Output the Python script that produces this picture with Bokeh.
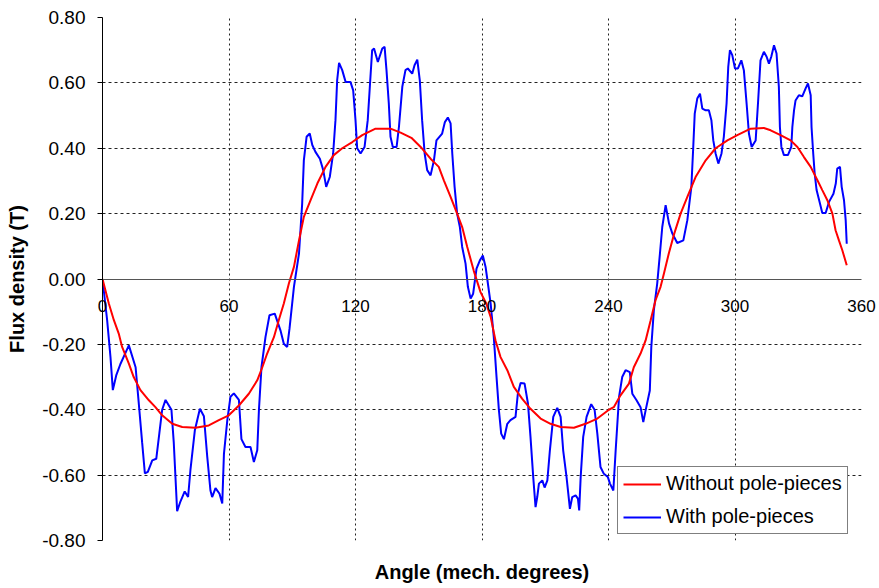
from bokeh.plotting import figure
from bokeh.models import (Range1d, FixedTicker, NumeralTickFormatter, Legend, LegendItem,
                          LinearAxis)
from bokeh.embed import file_html
from bokeh.resources import INLINE

# ---- data ----
angle_without = [0, 3, 5.4, 7.7, 9.3, 12.5, 14.8, 18, 22, 25.1, 28.3, 33.1, 37.8, 44.1, 50.4, 55.2,
                 59.9, 64.7, 69.4, 73.4, 75.8, 78.1, 81.3, 83.6, 86, 88.4, 90.8, 93.2, 95.5, 98.7,
                 101.9, 105.8, 109.7, 113.7, 118.5, 123.2, 129.5, 136.6, 141.4, 146.5, 150.9, 155.6,
                 159.5, 161.9, 165.1, 168.2, 170.6, 173, 176.1, 179.3, 182, 184.1, 186.4, 188.8, 192,
                 195.1, 199, 203, 207.8, 212.5, 217.3, 223.6, 229.1, 234.7, 240.2, 242.5, 245.7,
                 249.7, 252, 255.2, 257.6, 260, 262.3, 264.7, 266.3, 268.6, 271, 274.2, 277.4, 281.3,
                 286.1, 290.8, 296.4, 301.1, 307.4, 313.7, 316.9, 321.6, 326.4, 329.6, 332.7, 335.9,
                 339.1, 341.4, 343.8, 346.2, 347.7, 349.3, 350.9, 353]
flux_without = [0, -0.075, -0.126, -0.167, -0.208, -0.259, -0.30, -0.34, -0.371, -0.392, -0.417,
                -0.443, -0.453, -0.455, -0.448, -0.432, -0.417, -0.387, -0.351, -0.31, -0.27,
                -0.228, -0.178, -0.126, -0.075, -0.014, 0.037, 0.118, 0.19, 0.241, 0.292, 0.343,
                0.379, 0.40, 0.419, 0.44, 0.46, 0.46, 0.448, 0.432, 0.404, 0.368, 0.343, 0.302,
                0.251, 0.20, 0.159, 0.098, 0.025, -0.04, -0.075, -0.116, -0.188, -0.239, -0.279,
                -0.33, -0.366, -0.397, -0.427, -0.443, -0.453, -0.455, -0.443, -0.427, -0.40,
                -0.392, -0.356, -0.32, -0.27, -0.228, -0.188, -0.126, -0.065, -0.024, 0.017, 0.078,
                0.135, 0.20, 0.251, 0.312, 0.363, 0.40, 0.424, 0.44, 0.46, 0.462, 0.455, 0.44,
                0.424, 0.404, 0.373, 0.343, 0.302, 0.272, 0.241, 0.20, 0.149, 0.118, 0.088, 0.042]

angle_with = [0, 2.2, 3.8, 4.9, 6.5, 8.5, 12.5, 15.7, 17.2, 18.8, 20.1, 21.5, 23.6, 25.5, 27, 28.3,
              29.9, 32.7, 33.8, 35.4, 37, 39, 40.6, 41.7, 43.8, 46.2, 48.1, 49.7, 51.2, 52, 53.6,
              55.5, 56.8, 57.6, 59.2, 60.7, 62.3, 64.7, 65.9, 67.8, 70.2, 71.8, 73.4, 74.2, 75.4,
              77.3, 79.2, 81.7, 84.4, 86, 87.6, 88.7, 90.8, 93.2, 94.7, 95.5, 96.8, 98.3, 99.5,
              101, 103.1, 104.7, 106.1, 107.8, 109.4, 110.5, 111.3, 112.2, 113.7, 115.3, 117.6,
              118.9, 120, 120.8, 122.4, 124.3, 125.8, 126.8, 127.9, 128.8, 130.6, 132.7, 133.8,
              134.7, 135.8, 136.6, 137.7, 139.5, 140.6, 142.2, 143.7, 144.8, 146.9, 148, 149.3,
              150.5, 151.6, 152.8, 154, 155.6, 157.2, 158.4, 161.1, 162.4, 163.8, 165.1, 165.9,
              167, 168.2, 169.5, 170.6, 172.2, 173.3, 174.6, 175.8, 177.4, 179, 180.4, 181.7,
              182.5, 184.1, 185.6, 186.9, 188, 189.1, 190.4, 192, 193.5, 195.9, 197, 198.3, 200.2,
              201.8, 203, 204.3, 205.4, 206.2, 207, 208.6, 209.7, 211, 212.2, 213.8, 215.7, 217.3,
              218.5, 220.1, 221.7, 222.8, 224.4, 225.5, 226.1, 226.8, 228, 229.6, 231.8, 233.4,
              234.7, 236.2, 237.8, 239.7, 240.7, 242.3, 243.4, 245, 246.5, 248.1, 250.1, 251.3,
              253.3, 255.2, 256.5, 257.6, 259.6, 260.3, 261.5, 263.1, 264.4, 265.5, 267.1, 268.7,
              270.3, 272.6, 275.5, 277.4, 279.3, 280.2, 280.9, 282.1, 283.4, 284.5, 286.1, 287.6,
              288.8, 289.7, 290.8, 292.1, 293.6, 294.7, 296, 296.8, 297.6, 298.7, 300, 301.4, 303,
              304.2, 305.5, 306.6, 307.9, 309.8, 310.9, 312.1, 313.7, 315, 316.1, 317.2, 318.5,
              319.7, 320.8, 321.3, 322, 323.2, 325.1, 326.7, 327.2, 328, 328.7, 330.3, 331.9,
              333.5, 334.6, 335.9, 336.3, 337.1, 337.8, 338.7, 340.3, 341.4, 343, 344.6, 346.7,
              347.8, 348.5, 349.8, 350.6, 351.7, 352.5, 353]
flux_with = [0, -0.126, -0.24, -0.34, -0.295, -0.26, -0.203, -0.27, -0.38, -0.50, -0.595, -0.59,
             -0.555, -0.55, -0.47, -0.40, -0.37, -0.40, -0.50, -0.71, -0.68, -0.65, -0.667, -0.585,
             -0.463, -0.397, -0.42, -0.545, -0.647, -0.667, -0.64, -0.657, -0.687, -0.535, -0.432,
             -0.36, -0.35, -0.37, -0.49, -0.514, -0.514, -0.56, -0.524, -0.40, -0.27, -0.178,
             -0.111, -0.106, -0.157, -0.198, -0.208, -0.152, -0.024, 0.078, 0.23, 0.363, 0.435,
             0.445, 0.41, 0.389, 0.368, 0.333, 0.282, 0.312, 0.384, 0.486, 0.608, 0.661, 0.639,
             0.603, 0.603, 0.577, 0.486, 0.40, 0.384, 0.404, 0.486, 0.588, 0.70, 0.705, 0.664,
             0.705, 0.71, 0.639, 0.537, 0.435, 0.404, 0.404, 0.465, 0.588, 0.639, 0.644, 0.628,
             0.654, 0.671, 0.608, 0.486, 0.384, 0.333, 0.317, 0.363, 0.424, 0.445, 0.48, 0.494,
             0.476, 0.384, 0.282, 0.20, 0.159, 0.098, 0.047, -0.024, -0.06, -0.045, 0.032, 0.057,
             0.072, 0.037, 0.0, -0.075, -0.178, -0.30, -0.40, -0.473, -0.49, -0.443, -0.432,
             -0.422, -0.351, -0.318, -0.32, -0.381, -0.483, -0.606, -0.698, -0.667, -0.626,
             -0.616, -0.638, -0.616, -0.524, -0.422, -0.394, -0.422, -0.524, -0.606, -0.703,
             -0.667, -0.662, -0.672, -0.708, -0.606, -0.483, -0.422, -0.383, -0.40, -0.473,
             -0.575, -0.596, -0.606, -0.626, -0.647, -0.524, -0.361, -0.30, -0.279, -0.285,
             -0.351, -0.371, -0.392, -0.438, -0.402, -0.341, -0.208, -0.096, -0.014, 0.078, 0.159,
             0.226, 0.17, 0.139, 0.11, 0.118, 0.18, 0.282, 0.404, 0.506, 0.552, 0.567, 0.521,
             0.516, 0.516, 0.486, 0.424, 0.384, 0.353, 0.384, 0.435, 0.537, 0.649, 0.70, 0.685,
             0.644, 0.644, 0.669, 0.639, 0.537, 0.445, 0.404, 0.424, 0.537, 0.669, 0.695, 0.68,
             0.659, 0.68, 0.715, 0.69, 0.588, 0.465, 0.404, 0.379, 0.379, 0.404, 0.465, 0.516,
             0.546, 0.562, 0.559, 0.583, 0.598, 0.562, 0.465, 0.384, 0.322, 0.272, 0.231, 0.202,
             0.202, 0.236, 0.261, 0.292, 0.338, 0.343, 0.282, 0.241, 0.18, 0.108]

x_ticks = [0, 60, 120, 180, 240, 300, 360]
y_ticks = [-0.8, -0.6, -0.4, -0.2, 0.0, 0.2, 0.4, 0.6, 0.8]

FONT = "Liberation Sans"

p = figure(width=879, height=588, x_range=Range1d(0, 360), y_range=Range1d(-0.8, 0.8),
           output_backend="svg", toolbar_location=None,
           min_border_left=102, min_border_right=18, min_border_top=17, min_border_bottom=48)
p.outline_line_color = None
p.background_fill_color = "white"

# x axis line crossing at zero (labels drawn by the axis below)
xa = p.xaxis[0]
xa.fixed_location = 0
xa.ticker = FixedTicker(ticks=x_ticks)
xa.major_tick_out = 0
xa.major_tick_in = 0
xa.minor_tick_line_color = None
xa.axis_line_color = "#555555"
xa.axis_line_width = 1
xa.major_label_text_color = None

# axis carrying the tick labels (shifted up to the zero line) and the title
xl = LinearAxis(ticker=FixedTicker(ticks=x_ticks))
xl.axis_line_color = None
xl.major_tick_line_color = None
xl.minor_tick_line_color = None
xl.major_tick_out = 0
xl.major_tick_in = 0
xl.major_label_text_font = FONT
xl.major_label_text_font_size = "17px"
xl.major_label_text_color = "black"
xl.major_label_standoff = -241
xl.axis_label = "Angle (mech. degrees)"
xl.axis_label_text_font = FONT
xl.axis_label_text_font_size = "20px"
xl.axis_label_text_font_style = "bold"
xl.axis_label_text_color = "black"
xl.axis_label_standoff = 246
p.add_layout(xl, "below")

ya = p.yaxis[0]
ya.ticker = FixedTicker(ticks=y_ticks)
ya.formatter = NumeralTickFormatter(format="0.00")
ya.major_tick_out = 5
ya.major_tick_in = 0
ya.minor_tick_line_color = None
ya.axis_line_color = "black"
ya.major_tick_line_color = "black"
ya.major_label_text_font = FONT
ya.major_label_text_font_size = "19px"
ya.major_label_text_color = "black"
ya.major_label_standoff = 12
ya.axis_label = "Flux density (T)"
ya.axis_label_text_font = FONT
ya.axis_label_text_font_size = "20px"
ya.axis_label_text_font_style = "bold"
ya.axis_label_text_color = "black"
ya.axis_label_standoff = 11

xg = p.xgrid[0]
xg.ticker = FixedTicker(ticks=x_ticks)
xg.grid_line_color = "#222222"
xg.grid_line_dash = "2 3"
xg.grid_line_width = 1
yg = p.ygrid[0]
yg.ticker = FixedTicker(ticks=y_ticks)
yg.grid_line_color = "#222222"
yg.grid_line_dash = "3 3"
yg.grid_line_width = 1

r_with = p.line(angle_with, flux_with, line_color="#0000FF", line_width=2)
r_without = p.line(angle_without, flux_without, line_color="#FF0000", line_width=2)

legend = Legend(items=[LegendItem(label="Without pole-pieces", renderers=[r_without]),
                       LegendItem(label="With pole-pieces", renderers=[r_with])],
                location=(515, 6))
legend.label_text_font = FONT
legend.label_text_font_size = "20px"
legend.label_text_color = "black"
legend.glyph_width = 38
legend.glyph_height = 20
legend.label_height = 20
legend.label_standoff = 5
legend.spacing = 10
legend.padding = 5
legend.margin = 0
legend.border_line_color = "black"
legend.border_line_width = 1
legend.background_fill_color = "white"
legend.background_fill_alpha = 1
p.add_layout(legend)

open("out.html", "w").write(file_html(p, INLINE))
